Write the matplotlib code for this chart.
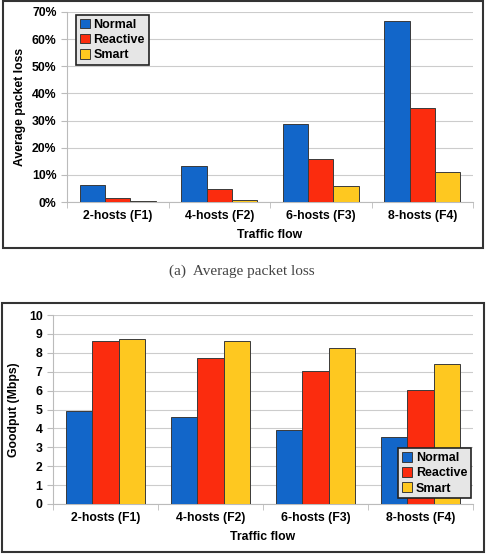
import numpy as np
import matplotlib
matplotlib.use("Agg")
import matplotlib.pyplot as plt
from matplotlib.patches import Rectangle
from matplotlib.ticker import PercentFormatter

# Data
flows = ["2-hosts (F1)", "4-hosts (F2)", "6-hosts (F3)", "8-hosts (F4)"]
schemes = ["Normal", "Reactive", "Smart"]
loss_normal = [6.2, 13.3, 28.8, 66.8]
loss_reactive = [1.5, 4.7, 15.8, 34.8]
loss_smart = [0.5, 0.8, 5.9, 11.2]
goodput_normal = [4.9, 4.6, 3.9, 3.55]
goodput_reactive = [8.6, 7.75, 7.05, 6.05]
goodput_smart = [8.75, 8.62, 8.28, 7.42]

colors = ["#1266c9", "#fb2c0e", "#fec820"]

plt.rcParams['font.family'] = ['Liberation Sans', 'DejaVu Sans']
plt.rcParams['font.weight'] = 'bold'

W, H = 487, 555
fig = plt.figure(figsize=(W/100, H/100), dpi=100)


def px_axes(x0, y0, x1, y1):
    return fig.add_axes([x0/W, 1 - y1/H, (x1 - x0)/W, (y1 - y0)/H])


def frame(x0, y0, x1, y1):
    fig.patches.append(Rectangle((x0/W, 1 - y1/H), (x1 - x0)/W, (y1 - y0)/H,
                                 transform=fig.transFigure, fill=False,
                                 edgecolor="#333333", linewidth=1.5))


def bars(ax, series):
    x = np.arange(len(flows))
    w = 0.25
    for i, (vals, c) in enumerate(zip(series, colors)):
        ax.bar(x + (i - 1)*w, vals, w, color=c, edgecolor="#3a3a3a",
               linewidth=0.7, label=schemes[i], zorder=3)
    ax.set_xlim(-0.5, len(flows) - 0.5)
    ax.set_xticks(x)
    ax.set_xticklabels(flows, fontsize=8.8, fontweight='bold')
    ax.set_xticks(np.arange(len(flows) + 1) - 0.5, minor=True)
    ax.tick_params(axis='x', which='major', length=0, pad=6)
    ax.tick_params(axis='x', which='minor', length=4, color="#bbbbbb")
    ax.tick_params(axis='y', length=4, color="#bbbbbb", labelsize=8.8)
    ax.grid(axis='y', color="#cccccc", linewidth=0.8, zorder=0)
    for s in ["top", "right"]:
        ax.spines[s].set_visible(False)
    for s in ["left", "bottom"]:
        ax.spines[s].set_color("#bbbbbb")
    ax.set_xlabel("Traffic flow", fontsize=8.8, fontweight='bold', labelpad=5)


def legend(ax, loc, anchor):
    leg = ax.legend(loc=loc, bbox_to_anchor=anchor, fontsize=9, frameon=True,
                    fancybox=False, handlelength=0.8, handleheight=0.8,
                    handletextpad=0.3, borderpad=0.3, labelspacing=0.25,
                    borderaxespad=0)
    leg.get_frame().set_facecolor("#e6e6e6")
    leg.get_frame().set_edgecolor("#222222")
    leg.get_frame().set_linewidth(1.2)
    leg.get_frame().set_alpha(1)
    for t in leg.get_texts():
        t.set_fontweight('bold')


# (a) packet loss
frame(3, 1, 483, 248)
ax1 = px_axes(67, 12, 473, 202)
bars(ax1, [loss_normal, loss_reactive, loss_smart])
ax1.set_ylim(0, 70)
ax1.set_yticks(np.arange(0, 71, 10))
ax1.yaxis.set_major_formatter(PercentFormatter(decimals=0))
for lab in ax1.get_yticklabels():
    lab.set_fontweight('bold')
ax1.set_ylabel("Average packet loss", fontsize=8.8, fontweight='bold', labelpad=4)
legend(ax1, "upper left", (0.022, 0.985))

fig.text(242/W, 1 - 271/H, "(a)  Average packet loss", ha="center", va="center",
         fontsize=11, fontweight='normal', color="#444444",
         family=['Liberation Serif', 'DejaVu Serif'])

# (b) goodput
frame(2, 303, 484, 552)
ax2 = px_axes(53, 315, 473, 504)
bars(ax2, [goodput_normal, goodput_reactive, goodput_smart])
ax2.set_ylim(0, 10)
ax2.set_yticks(np.arange(0, 11, 1))
for lab in ax2.get_yticklabels():
    lab.set_fontweight('bold')
ax2.set_ylabel("Goodput (Mbps)", fontsize=8.8, fontweight='bold', labelpad=6)
legend(ax2, "lower right", (0.995, 0.03))

fig.savefig("out.png", dpi=100)
